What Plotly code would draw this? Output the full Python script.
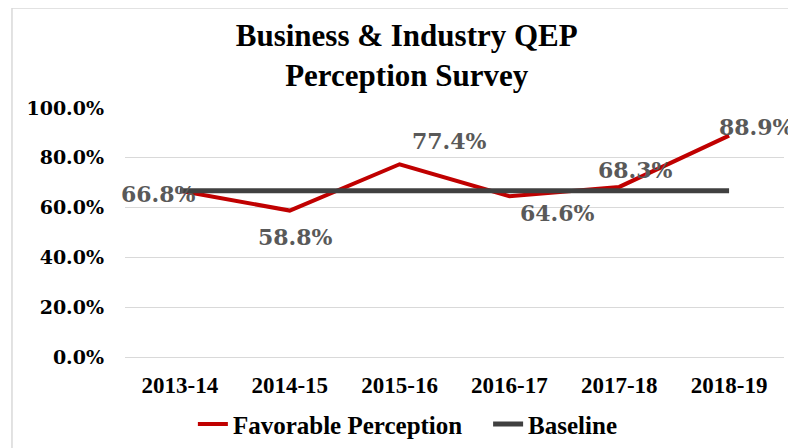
import plotly.graph_objects as go

categories = ["2013-14", "2014-15", "2015-16", "2016-17", "2017-18", "2018-19"]
favorable = [66.8, 58.8, 77.4, 64.6, 68.3, 88.9]
baseline = [66.8, 66.8, 66.8, 66.8, 66.8, 66.8]
y_ticks = [0, 20, 40, 60, 80, 100]

# label offsets (pixels) mimicking the Excel placement
label_dx = [-21, 6, 50, 48, 16, 27]
label_dy = [-3, -26, 23, -17, 17, 9]

fig = go.Figure()
fig.add_trace(go.Scatter(
    x=categories, y=favorable, mode="lines", name="Favorable Perception",
    line=dict(color="#C00000", width=4), legend="legend"))
fig.add_trace(go.Scatter(
    x=categories, y=baseline, mode="lines", name="Baseline",
    line=dict(color="#404040", width=5), legend="legend2"))

for c, v, dx, dy in zip(categories, favorable, label_dx, label_dy):
    fig.add_annotation(x=c, y=v, text=f"<b>{v:.1f}%</b>", showarrow=False,
                       xshift=dx, yshift=dy,
                       font=dict(family="DejaVu Serif", size=22, color="#595959"))

fig.add_shape(type="rect", xref="paper", yref="paper",
              x0=-0.1715, x1=1.2, y0=-0.6, y1=1.4016,
              line=dict(color="#D9D9D9", width=1.5), fillcolor="rgba(0,0,0,0)", layer="below")

legend_font = dict(family="Liberation Serif", size=25, color="black", weight="bold")

fig.update_layout(
    width=788, height=440,
    margin=dict(l=117, r=12, t=100, b=91, autoexpand=False),
    paper_bgcolor="white", plot_bgcolor="white",
    title=dict(text="Business & Industry QEP<br>Perception Survey",
               x=0.506, xanchor="center", y=0.914, yanchor="middle",
               font=dict(family="Liberation Serif", size=31, color="black", weight="bold")),
    xaxis=dict(range=[-0.5, 5.5], showgrid=False, zeroline=False, showline=False,
               ticks="", ticklabelstandoff=12, automargin=False,
               tickfont=dict(family="Liberation Serif", size=23, color="black", weight="bold")),
    yaxis=dict(range=[0, 100], tickvals=y_ticks, ticktext=[f"{t:.1f}%" for t in y_ticks],
               showgrid=True, gridcolor="#D9D9D9", gridwidth=1.3,
               zeroline=True, zerolinecolor="#D9D9D9", zerolinewidth=1.3,
               showline=False, ticks="", ticklabelstandoff=20, automargin=False,
               tickfont=dict(family="DejaVu Serif", size=19, color="black", weight="bold")),
    legend=dict(orientation="h", x=0.103, xanchor="left", y=-0.27, yanchor="middle",
                font=legend_font, itemwidth=30, bgcolor="rgba(0,0,0,0)"),
    legend2=dict(orientation="h", x=0.551, xanchor="left", y=-0.27, yanchor="middle",
                 font=legend_font, itemwidth=30, bgcolor="rgba(0,0,0,0)"),
    showlegend=True,
)

fig.write_html("out.html")
